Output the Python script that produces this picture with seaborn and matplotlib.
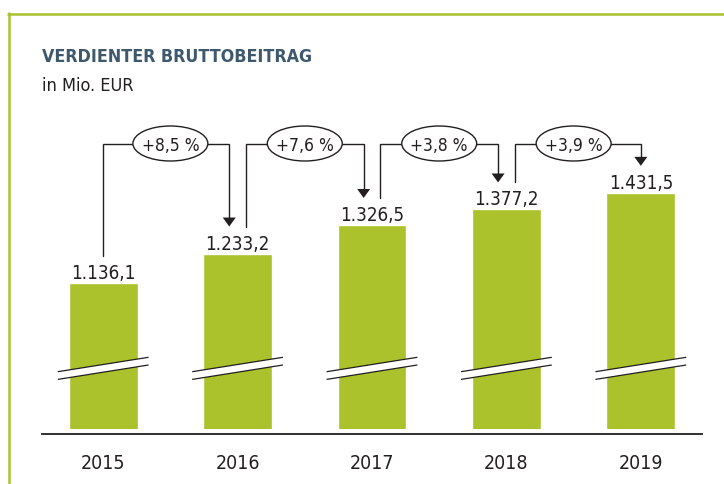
import numpy as np
import pandas as pd
import matplotlib
matplotlib.use("Agg")
import matplotlib.pyplot as plt
import seaborn as sns
from matplotlib import font_manager
from matplotlib.lines import Line2D
from matplotlib.patches import Ellipse, Polygon

# Data
YEARS = ["2015", "2016", "2017", "2018", "2019"]
VALUES = [1136.1, 1233.2, 1326.5, 1377.2, 1431.5]
VALUE_LABELS = ["1.136,1", "1.233,2", "1.326,5", "1.377,2", "1.431,5"]
GROWTH_LABELS = ["+8,5 %", "+7,6 %", "+3,8 %", "+3,9 %"]
TITLE = "VERDIENTER BRUTTOBEITRAG"
SUBTITLE = "in Mio. EUR"

# Style
GREEN = "#abc22c"
FRAME = "#a9c22e"
INK = "#231f20"
NAVY = "#3e586d"

# pick a narrow face if one is around
fonts = font_manager.fontManager.ttflist
if any(f.name == "Liberation Sans Narrow" for f in fonts):
    FONT, STRETCH = ["Liberation Sans Narrow", "DejaVu Sans"], "normal"
elif any(f.name == "DejaVu Sans" and f.stretch == "condensed" for f in fonts):
    FONT, STRETCH = ["DejaVu Sans"], "condensed"
else:
    FONT, STRETCH = ["Liberation Sans", "DejaVu Sans"], "normal"

# Layout (pixels, measured from the top-left corner)
W, H = 724, 485
AX_L, AX_R, AX_TOP, AX_BOT = 42, 702, 100, 429.5
Y0 = 661.4            # value at the bar base (axis is broken)
PX = 1 / 0.306        # value units per pixel
XPX = 1 / 134.5       # category units per pixel
LINE_Y = Y0 + 285 * PX  # level of the growth connectors

sns.set_style("white")
plt.rcParams["font.family"] = FONT
plt.rcParams["font.stretch"] = STRETCH

fig = plt.figure(figsize=(W / 100, H / 100), dpi=100)
ax = fig.add_axes([AX_L / W, 1 - AX_BOT / H, (AX_R - AX_L) / W, (AX_BOT - AX_TOP) / H])

df = pd.DataFrame({"year": YEARS, "value": VALUES})
sns.barplot(data=df, x="year", y="value", color=GREEN, saturation=1,
            width=0.513, ax=ax)

n = len(YEARS)
ax.set_xlim(-0.455, n - 1 + 0.455)
ax.set_ylim(Y0, Y0 + (AX_BOT - AX_TOP) * PX)
ax.set_xlabel(""); ax.set_ylabel("")
ax.set_yticks([])
ax.tick_params(axis="x", length=0, pad=14, labelsize=14, colors=INK)
for s in ["left", "top", "right"]:
    ax.spines[s].set_visible(False)
ax.spines["bottom"].set_position(("outward", 3.7))
ax.spines["bottom"].set_linewidth(1.3)
ax.spines["bottom"].set_color(INK)

# axis-break marks on every bar
hw = 45.4 * XPX
for i in range(n):
    xs = np.array([i - hw, i + hw])
    up = Y0 + (64 + np.array([-7.2, 7.2])) * PX
    lo = Y0 + (56.3 + np.array([-7.2, 7.2])) * PX
    ax.add_patch(Polygon([(xs[0], lo[0]), (xs[1], lo[1]), (xs[1], up[1]), (xs[0], up[0])],
                         closed=True, facecolor="white", edgecolor="none", zorder=3))
    ax.plot(xs, up, color=INK, lw=0.9, zorder=4, solid_capstyle="butt")
    ax.plot(xs, lo, color=INK, lw=0.9, zorder=4, solid_capstyle="butt")

# value labels
for i, (v, lab) in enumerate(zip(VALUES, VALUE_LABELS)):
    ax.annotate(lab, (i, v), xytext=(0, 5), textcoords="offset pixels",
                ha="center", va="baseline", fontsize=13.5, color=INK)

# growth connectors
OFF = 0.062
GAP = 27
for i, lab in enumerate(GROWTH_LABELS):
    x_out = i if i == 0 else i + OFF
    x_in = i + 1 if i + 1 == n - 1 else i + 1 - OFF
    y_start = VALUES[i] + GAP * PX
    y_tip = VALUES[i + 1] + GAP * PX
    head_h = 9 * PX
    ax.plot([x_out, x_out, x_in, x_in], [y_start, LINE_Y, LINE_Y, y_tip + head_h],
            color=INK, lw=1.0, zorder=4, solid_joinstyle="miter")
    ax.add_patch(Polygon([(x_in - 6.5 * XPX, y_tip + head_h), (x_in + 6.5 * XPX, y_tip + head_h),
                          (x_in, y_tip)], closed=True, facecolor=INK, edgecolor="none", zorder=5))
    ax.add_patch(Ellipse((i + 0.5, LINE_Y), 75 * XPX, 35 * PX, facecolor="white",
                         edgecolor=INK, lw=1.0, zorder=5))
    ax.text(i + 0.5, LINE_Y, lab, ha="center", va="center_baseline", fontsize=12.5,
            color=INK, zorder=6)

# green frame
fig.add_artist(Line2D([7.3 / W, 1], [1 - 14.5 / H] * 2, transform=fig.transFigure,
                      color=FRAME, lw=1.8, solid_capstyle="butt"))
fig.add_artist(Line2D([8.5 / W] * 2, [1 - 13.3 / H, 0], transform=fig.transFigure,
                      color=FRAME, lw=1.8, solid_capstyle="butt"))

fig.text(42 / W, 1 - 61.7 / H, TITLE, fontsize=12.8, fontweight="bold", color=NAVY, va="baseline")
fig.text(42 / W, 1 - 90.7 / H, SUBTITLE, fontsize=13, color=INK, va="baseline")

fig.savefig("out.png", dpi=100)
